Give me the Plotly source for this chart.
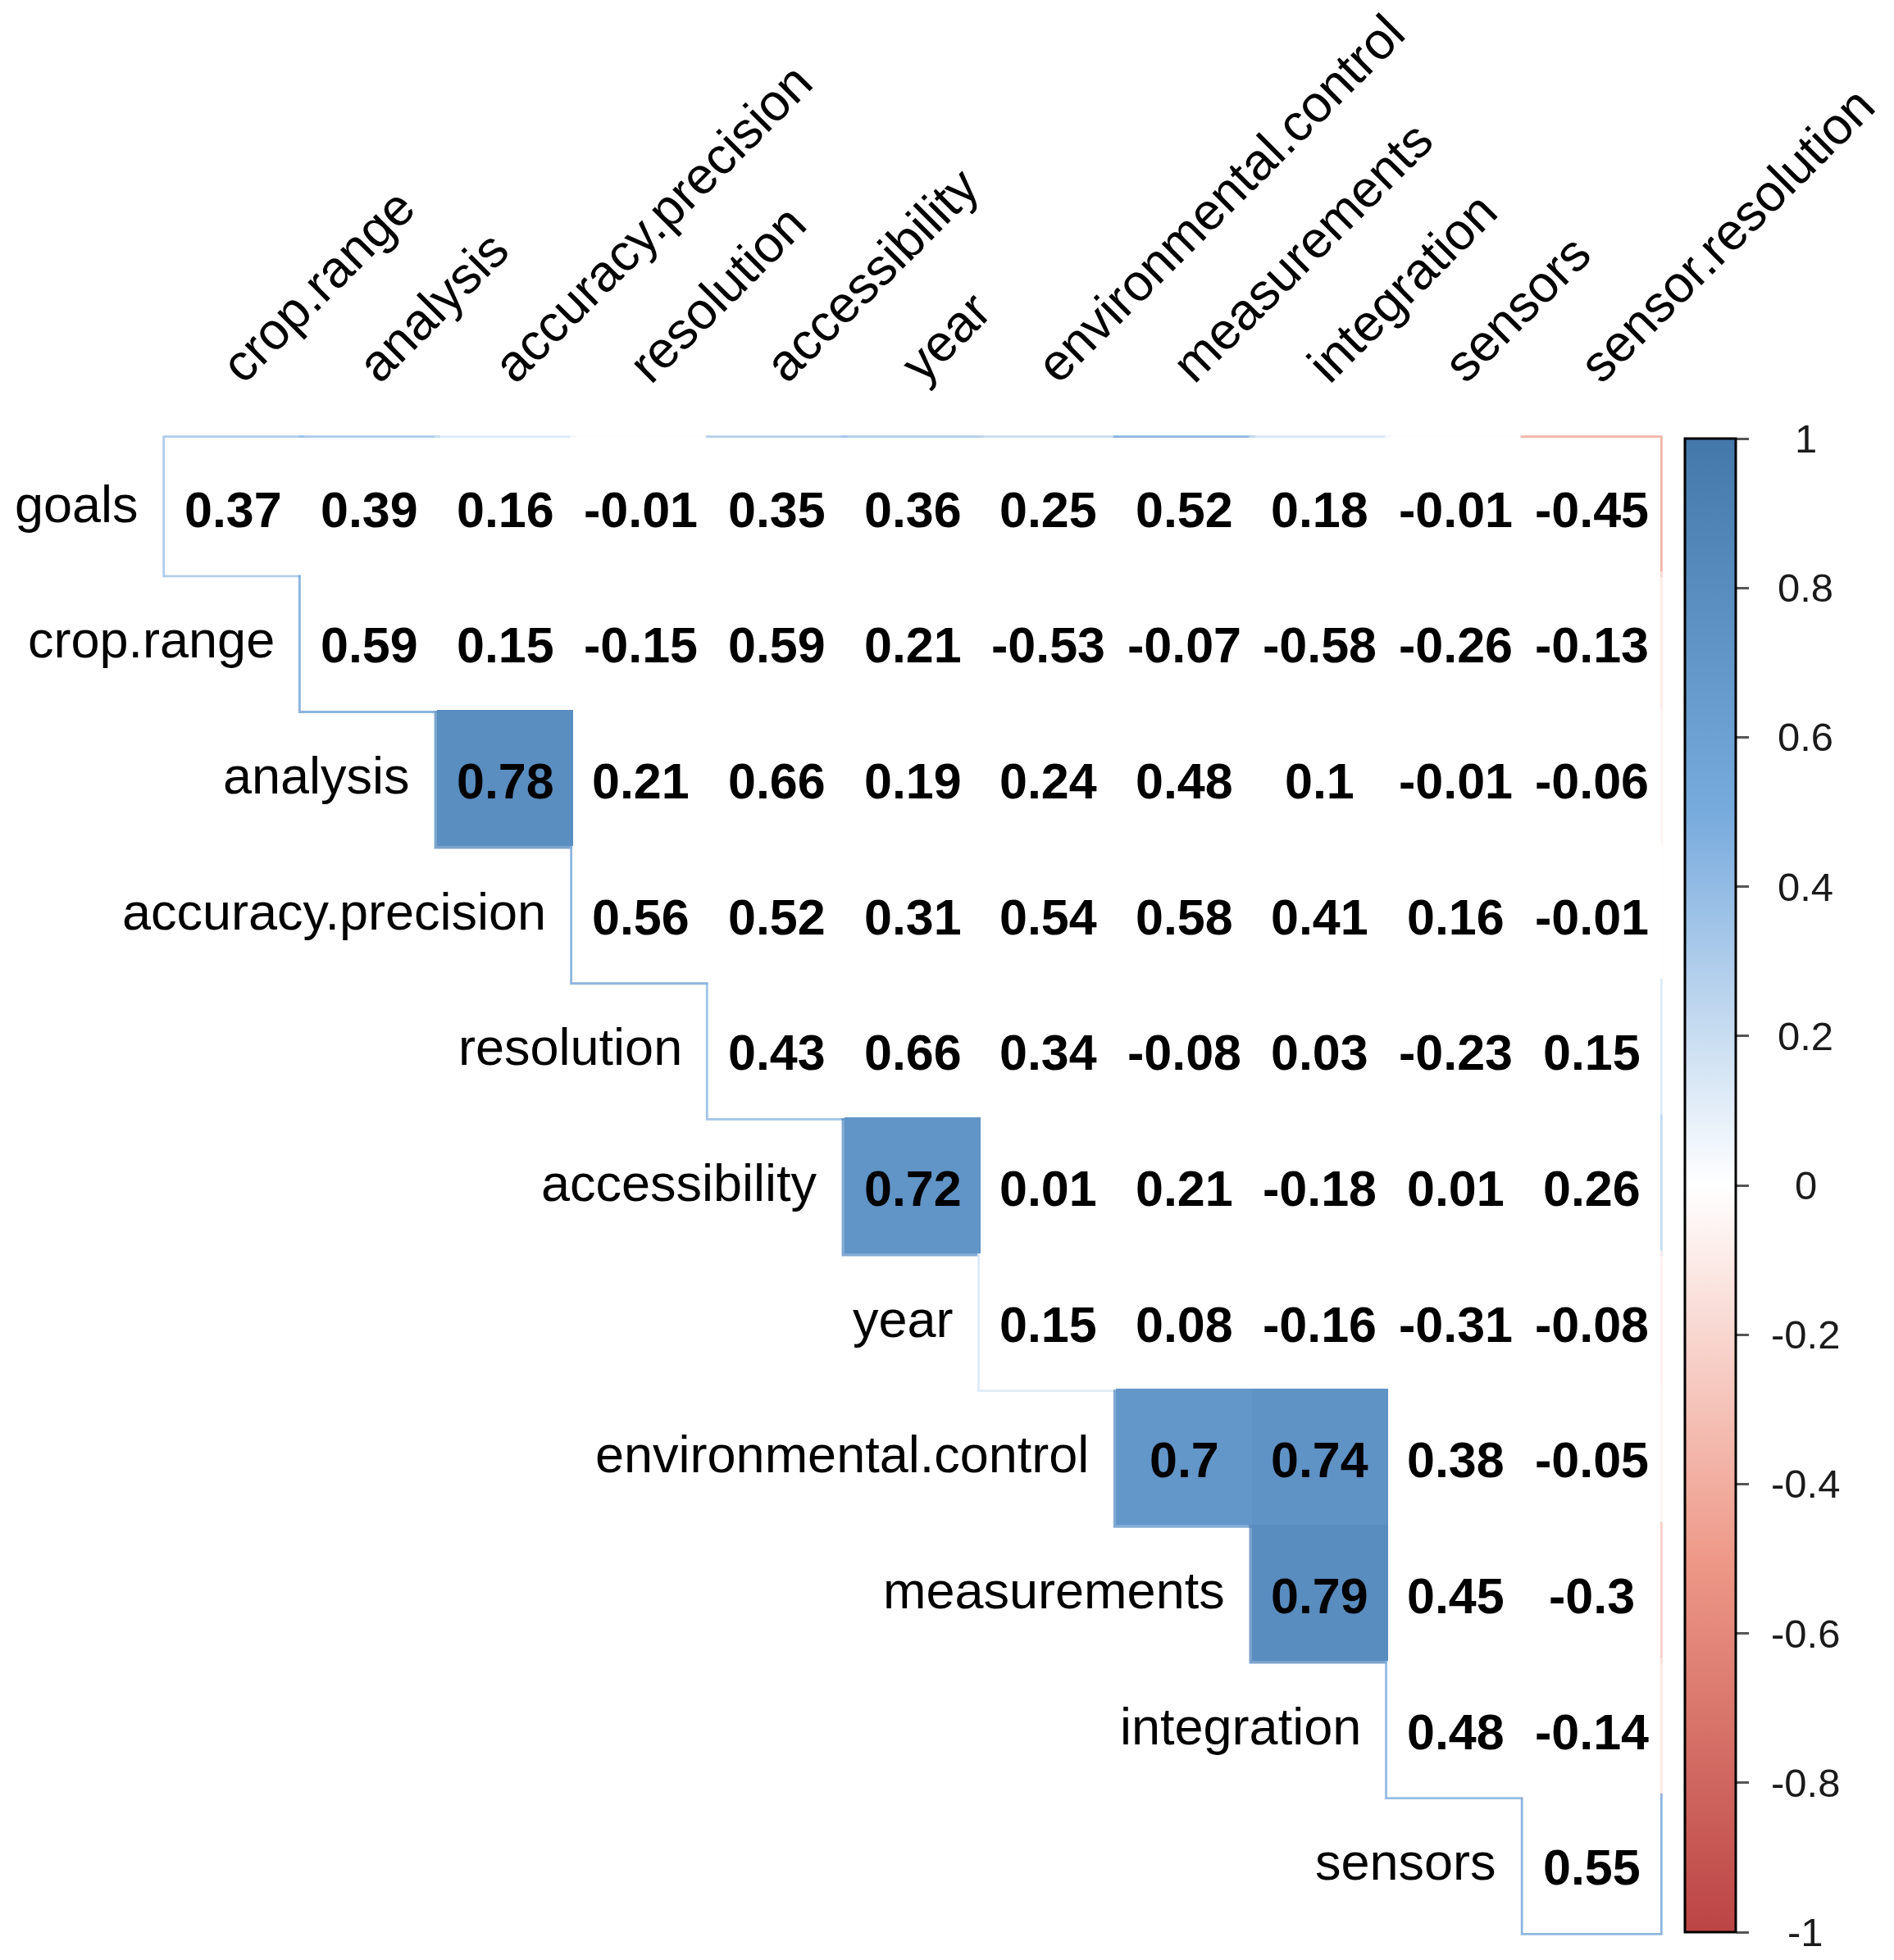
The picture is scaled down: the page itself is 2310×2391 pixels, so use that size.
import plotly.graph_objects as go
from plotly.colors import sample_colorscale

# ---------------- data ----------------
col_labels = ["crop.range", "analysis", "accuracy.precision", "resolution",
              "accessibility", "year", "environmental.control", "measurements",
              "integration", "sensors", "sensor.resolution"]
row_labels = ["goals", "crop.range", "analysis", "accuracy.precision", "resolution",
              "accessibility", "year", "environmental.control", "measurements",
              "integration", "sensors"]

# upper-triangle rows (each row starts at the column with the same index)
r_goals = [0.37, 0.39, 0.16, -0.01, 0.35, 0.36, 0.25, 0.52, 0.18, -0.01, -0.45]
r_crop_range = [0.59, 0.15, -0.15, 0.59, 0.21, -0.53, -0.07, -0.58, -0.26, -0.13]
r_analysis = [0.78, 0.21, 0.66, 0.19, 0.24, 0.48, 0.1, -0.01, -0.06]
r_accuracy_precision = [0.56, 0.52, 0.31, 0.54, 0.58, 0.41, 0.16, -0.01]
r_resolution = [0.43, 0.66, 0.34, -0.08, 0.03, -0.23, 0.15]
r_accessibility = [0.72, 0.01, 0.21, -0.18, 0.01, 0.26]
r_year = [0.15, 0.08, -0.16, -0.31, -0.08]
r_environmental_control = [0.7, 0.74, 0.38, -0.05]
r_measurements = [0.79, 0.45, -0.3]
r_integration = [0.48, -0.14]
r_sensors = [0.55]

row_values = [r_goals, r_crop_range, r_analysis, r_accuracy_precision, r_resolution,
              r_accessibility, r_year, r_environmental_control, r_measurements,
              r_integration, r_sensors]

# cells that are drawn filled (the rest are blanked)
significant = [("analysis", "accuracy.precision"), ("accessibility", "year"),
               ("environmental.control", "measurements"),
               ("environmental.control", "integration"),
               ("measurements", "integration")]

palette = ["#BB4444", "#EE9988", "#FFFFFF", "#77AADD", "#4477AA"]
cb_tickvals = [1, 0.8, 0.6, 0.4, 0.2, 0, -0.2, -0.4, -0.6, -0.8, -1]
cb_ticktext = ["1", "0.8", "0.6", "0.4", "0.2", "0", "-0.2", "-0.4", "-0.6", "-0.8", "-1"]

# ---------------- layout geometry (pixels) ----------------
W, H = 2310, 2391
OFF = 6                      # browser body margin compensation
grid_left, grid_top = 200 - OFF, 533 - OFF
n_rows, n_cols = len(row_labels), len(col_labels)
cell = 1822 / n_cols
pad = 0.06                   # axis padding (in cells) so edge hairlines are not clipped
m_l = grid_left - pad * cell
m_t = grid_top - pad * cell
plot_w = (n_cols + 2 * pad) * cell
plot_h = (n_rows + 2 * pad) * cell
m_r = W - m_l - plot_w
m_b = H - m_t - plot_h
pad_frac_y = pad / (n_rows + 2 * pad)

# ---------------- build ----------------
colorscale = [[k / (len(palette) - 1), c] for k, c in enumerate(palette)]
zmin, zmax = -1, 1

cells = []  # (i, j, value, sig)
for i, vals in enumerate(row_values):
    for k, v in enumerate(vals):
        j = i + k
        sig = (row_labels[i], col_labels[j]) in significant
        cells.append((i, j, v, sig))

z_sig = [[None] * n_cols for _ in range(n_rows)]
for i, j, v, sig in cells:
    if sig:
        z_sig[i][j] = v

FONT = "Liberation Sans, Arial, sans-serif"
fig = go.Figure()

fig.add_trace(go.Heatmap(
    z=z_sig, x=list(range(n_cols)), y=list(range(n_rows)),
    colorscale=colorscale, zmin=zmin, zmax=zmax, hoverinfo="skip",
    colorbar=dict(
        thickness=62, thicknessmode="pixels",
        len=1 - 2 * pad_frac_y, lenmode="fraction",
        xref="container", x=(2053 - OFF) / W, xanchor="left", xpad=0,
        y=pad_frac_y, yanchor="bottom", ypad=0,
        outlinewidth=3, outlinecolor="black",
        ticks="outside", ticklen=15, tickwidth=3, tickcolor="#555555",
        tickvals=cb_tickvals, showticklabels=False,
    ),
))

# hairline edge of the cell colours at the outer border (colour rect under a white blank)
e = 0.022
w = 0.005
shapes = []
for i, j, v, sig in cells:
    col = sample_colorscale(colorscale, [(v - zmin) / (zmax - zmin)])[0]
    shapes.append(dict(type="rect", xref="x", yref="y", layer="below",
                       x0=j - 0.5 - e, x1=j + 0.5 + e, y0=i - 0.5 - e, y1=i + 0.5 + e,
                       fillcolor=col, line=dict(width=0), opacity=0.8))
for i, j, v, sig in cells:
    if not sig:
        shapes.append(dict(type="rect", xref="x", yref="y", layer="below",
                           x0=j - 0.5 - w, x1=j + 0.5 + w, y0=i - 0.5 - w, y1=i + 0.5 + w,
                           fillcolor="white", line=dict(width=0)))

annotations = []
# coefficient labels
for i, j, v, sig in cells:
    annotations.append(dict(x=j, y=i, xref="x", yref="y", text=f"{v:g}",
                            showarrow=False, xanchor="center", yanchor="middle",
                            yshift=-4,
                            font=dict(family=FONT, size=61, color="black", weight="bold")))
# row labels
for i, lab in enumerate(row_labels):
    annotations.append(dict(x=i - 0.5, y=i, xref="x", yref="y", text=lab,
                            showarrow=False, xanchor="right", yanchor="middle",
                            xshift=-31, yshift=3,
                            font=dict(family=FONT, size=63, color="black")))
# column labels
for j, lab in enumerate(col_labels):
    annotations.append(dict(x=j, y=-0.5, xref="x", yref="y", text=lab,
                            showarrow=False, xanchor="left", yanchor="bottom",
                            textangle=-45, xshift=-31, yshift=53,
                            font=dict(family=FONT, size=63, color="black")))
# colour-bar labels
lab_x = (2200 - OFF - m_l) / plot_w
for v, t in zip(cb_tickvals, cb_ticktext):
    annotations.append(dict(x=lab_x,
                            y=pad_frac_y + (v - zmin) / (zmax - zmin) * (1 - 2 * pad_frac_y),
                            xref="paper", yref="paper",
                            text=t, showarrow=False, xanchor="center", yanchor="middle",
                            font=dict(family=FONT, size=49, color="#1a1a1a")))

fig.update_layout(
    width=W, height=H,
    margin=dict(l=m_l, r=m_r, t=m_t, b=m_b, pad=0),
    paper_bgcolor="white", plot_bgcolor="white",
    xaxis=dict(range=[-0.5 - pad, n_cols - 0.5 + pad], visible=False, fixedrange=True),
    yaxis=dict(range=[n_rows - 0.5 + pad, -0.5 - pad], visible=False, fixedrange=True),
    shapes=shapes, annotations=annotations, showlegend=False,
)

fig.write_html("out.html")
